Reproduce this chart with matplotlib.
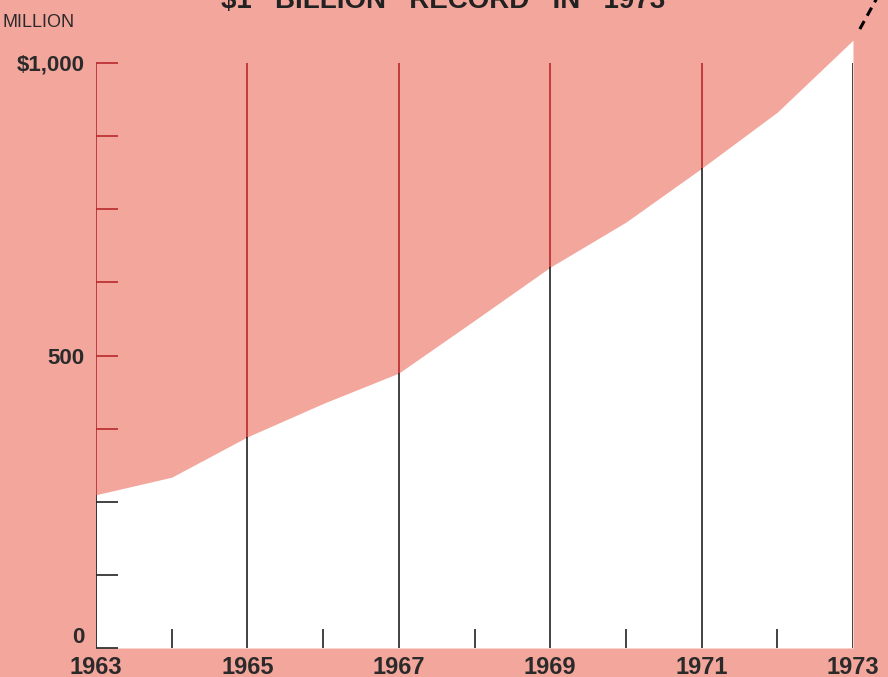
import matplotlib
matplotlib.use('Agg')
import matplotlib.pyplot as plt
import numpy as np

# data (millions of dollars)
years = [1963, 1964, 1965, 1966, 1967, 1968, 1969, 1970, 1971, 1972, 1973]
values = [262, 292, 361, 418, 470, 560, 651, 728, 820, 916, 1039]
grid_years = [1963, 1965, 1967, 1969, 1971, 1973]
label_years = [1963, 1965, 1967, 1969, 1971, 1973]
minor_years = [1964, 1966, 1968, 1970, 1972]
y_labels = {0: '0', 500: '500', 1000: '$1,000'}
y_minor = [125, 250, 375, 625, 750, 875]
title = '$1   BILLION   RECORD   IN   1973'

bg = '#F3A69C'
red = '#B8282C'
font = 'Liberation Sans'

fig = plt.figure(figsize=(8.88, 6.77), dpi=100)
fig.patch.set_facecolor(bg)
ax = fig.add_axes([96 / 888, 29 / 677, 757 / 888, 585 / 677])
ax.set_facecolor(bg)
ax.set_xlim(1963, 1973)
ax.set_ylim(0, 1000)

# white area under the curve
ax.fill_between(years, 0, values, color='white', lw=0, zorder=2, clip_on=False)

# vertical rules: red over the pink, black over the white
val = dict(zip(years, values))
ax.vlines(grid_years, 0, 1000, color=red, lw=1.2, zorder=1)
ax.vlines(grid_years, 0, [min(val[y], 1000) for y in grid_years],
          color='#222222', lw=1.2, zorder=3)

# dashed continuation off the top
ax.plot([1973.09, 1973.32], [1058, 1112], color='black', lw=2.2,
        ls=(0, (3, 2)), clip_on=False, zorder=4)

for s in ax.spines.values():
    s.set_visible(False)

# y ticks
ax.set_yticks(list(y_labels.keys()))
ax.set_yticklabels(list(y_labels.values()))
ax.set_yticks(y_minor, minor=True)
ax.tick_params(axis='y', which='both', direction='in', length=16, width=1.2,
               pad=8)
for loc, t in zip(ax.get_yticks(), ax.yaxis.get_major_ticks()):
    t.tick1line.set_markeredgecolor('#222222' if loc <= values[0] else red)
for loc, t in zip(ax.get_yticks(minor=True), ax.yaxis.get_minor_ticks()):
    t.tick1line.set_markeredgecolor('#222222' if loc <= values[0] else red)
for lab in ax.get_yticklabels():
    lab.set_fontfamily(font)
    lab.set_fontweight('bold')
    lab.set_fontsize(16)
    lab.set_color('#2a2a2a')
ax.get_yticklabels()[0].set_va('bottom')

# x ticks
ax.set_xticks(label_years)
ax.set_xticklabels([str(y) for y in label_years])
ax.set_xticks(minor_years, minor=True)
ax.tick_params(axis='x', which='major', length=0, pad=6)
ax.tick_params(axis='x', which='minor', direction='in', length=14, width=1.2,
               color='#222222')
for lab in ax.get_xticklabels():
    lab.set_fontfamily(font)
    lab.set_fontweight('bold')
    lab.set_fontsize(17)
    lab.set_color('#2a2a2a')
ax.set_axisbelow(False)

fig.text(3 / 888, 1 - 27 / 677, 'MILLION', fontfamily=font, fontsize=13,
         color='#2a2a2a', va='baseline', ha='left')
fig.text(443 / 888, 1 - 8 / 677, title, fontfamily=font, fontsize=20,
         fontweight='bold', color='#222222', va='baseline', ha='center')

fig.savefig('out.png', dpi=100, facecolor=bg)
